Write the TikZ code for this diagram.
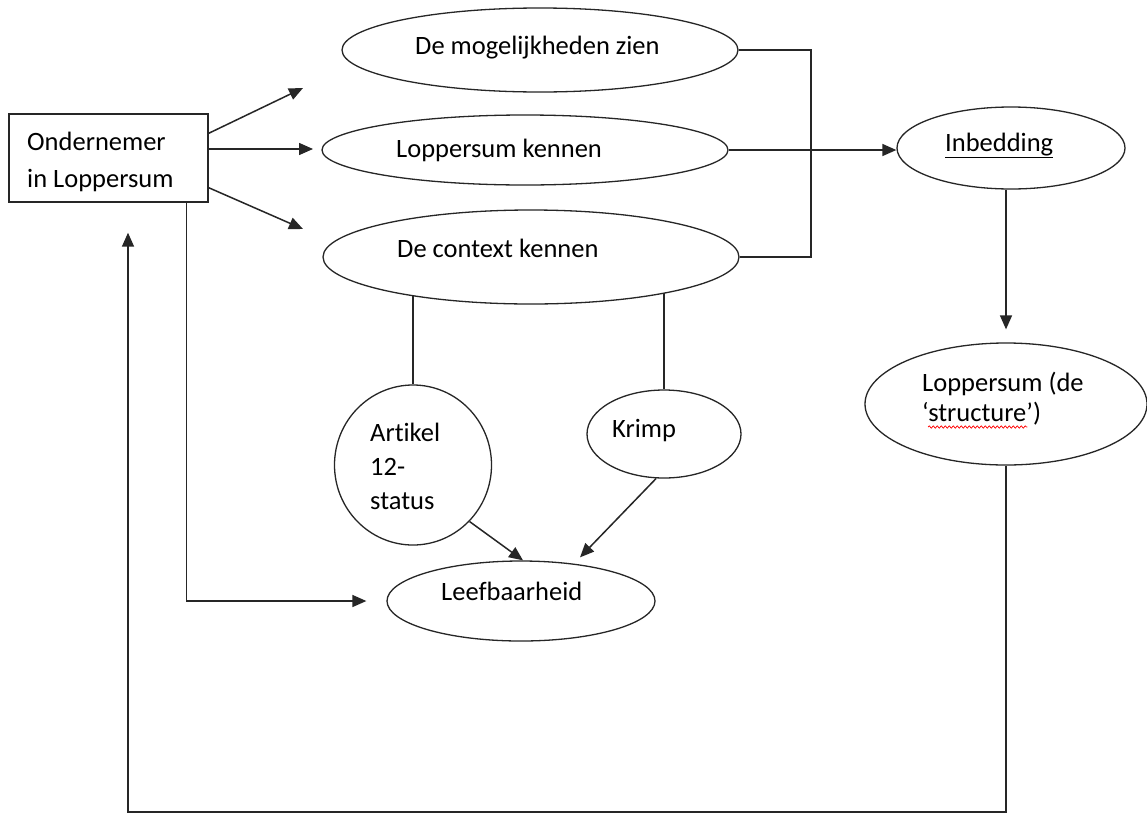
\documentclass[tikz,border=0pt]{standalone}
\usepackage{fontspec}
\setmainfont[Ligatures={NoCommon}]{Carlito}
\usetikzlibrary{arrows.meta,shapes.geometric,decorations.pathmorphing}
\begin{document}
\begin{tikzpicture}[x=1pt,y=-1pt,
  ell/.style={draw=black!85, ellipse, line width=1.3pt, inner sep=0pt},
  txt/.style={anchor=base west, inner sep=0pt, font=\fontsize{26.5}{34}\selectfont},
  con/.style={draw=black!85, line width=1.5pt},
  arr/.style={con, -{Triangle[length=14pt,width=12pt]}}]
\useasboundingbox (0,0) rectangle (1147,814);
\fill[white] (0,0) rectangle (1147,814);

% shapes
\node[draw=black!85, line width=1.4pt, minimum width=199pt, minimum height=88pt, inner sep=0pt] (box) at (108.5,158) {};
\node[ell, minimum width=396pt, minimum height=84pt] (e1) at (540,50) {};
\node[ell, minimum width=406pt, minimum height=70pt] (e2) at (525,150) {};
\node[ell, minimum width=416pt, minimum height=94pt] (e3) at (531,257) {};
\node[ell, minimum width=228pt, minimum height=82pt] (inb) at (1011,148) {};
\node[ell, minimum width=282pt, minimum height=122pt] (str) at (1006,404) {};
\node[ell, minimum width=157pt, minimum height=160pt] (art) at (413,465) {};
\node[ell, minimum width=154pt, minimum height=88pt] (kri) at (664,434) {};
\node[ell, minimum width=268pt, minimum height=80pt] (lee) at (521,601) {};

% texts
\node[txt] (t1) at (27,150) {Ondernemer};
\node[txt] (t2) at (27,187) {in Loppersum};
\node[txt] (t3) at (415,54) {De mogelijkheden zien};
\node[txt] (t4) at (396,157) {Loppersum kennen};
\node[txt] (t5) at (397,257) {De context kennen};
\node[txt] (t6) at (945,151) {\underline{Inbedding}};
\node[txt] (t7) at (922,391) {Loppersum (de};
\node[txt] (t8) at (922,421) {‘structure’)};
\node[txt] (t9) at (370,441) {Artikel};
\node[txt] (t10) at (370,475) {12-};
\node[txt] (t11) at (370,509) {status};
\node[txt] (t12) at (612,437) {Krimp};
\node[txt] (t13) at (441,600) {Leefbaarheid};
\draw[red, line width=0.7pt, decorate, decoration={snake, amplitude=1.2pt, segment length=4pt}]
  ([xshift=6pt,yshift=-6pt]t8.base west) -- ([xshift=-14pt,yshift=-6pt]t8.base east);

% free ends
\coordinate (a1) at (303,88);
\coordinate (a2) at (313,149);
\coordinate (a3) at (303,229);
\coordinate (br) at (811,0);
\coordinate (bl) at (0,812);

% connectors
\draw[arr] ([yshift=-20pt]box.north east) -- (a1);
\draw[arr] (box.east |- a2) -- (a2);
\draw[arr] ([yshift=15pt]box.south east) -- (a3);
\draw[con] (e1.east) -- (e1.east -| br) -- (e3.east -| br) -- (e3.east);
\draw[arr] (e2.east) -- (inb.west |- e2.east);
\draw[arr] (inb.south -| str.north) -- ([yshift=13pt]str.north);
\draw[arr] (str.south) -- (str.south |- bl) -- (bl -| 128,0) -- ([yshift=-30pt]box.south west -| 128,0);
\draw[arr] ([xshift=-22pt]box.south east) |- ([xshift=-20pt]lee.west);
\draw[con] (e3.-162.3 -| art.north) -- (art.north);
\draw[con] (e3.-15.4 -| kri.north) -- (kri.north);
\draw[arr] (art.-45) -- ([xshift=2pt]lee.north);
\draw[arr] (kri.-100) -- ([xshift=59pt,yshift=3pt]lee.north);
\end{tikzpicture}
\end{document}
